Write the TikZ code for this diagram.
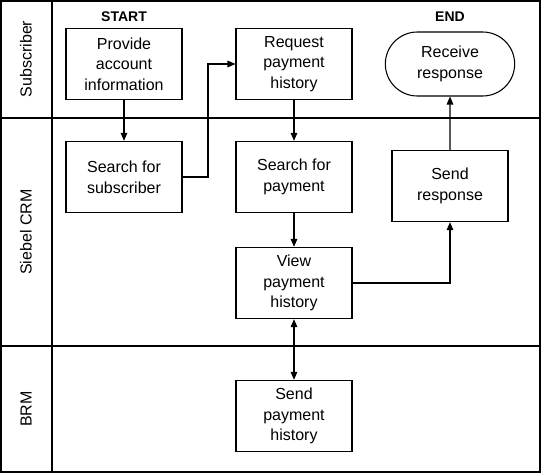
\documentclass[tikz,border=0pt]{standalone}
\usepackage{fontspec}
\setmainfont{Liberation Sans}
\usetikzlibrary{arrows.meta,shapes.misc}
\begin{document}
\begin{tikzpicture}[x=0.75pt,y=-0.75pt,
  box/.style={draw,line width=0.8pt,minimum width=87pt,minimum height=53.5pt,align=center,font=\fontsize{12}{15.5}\selectfont,inner sep=1pt},
  term/.style={box,rounded rectangle,minimum width=99pt,minimum height=48pt},
  arr/.style={-{Triangle[length=6pt,width=5pt]},line width=0.8pt},
  lane/.style={rotate=90,font=\fontsize{12}{14}\selectfont},
  hdr/.style={font=\bfseries\fontsize{10.5}{12}\selectfont}]
\useasboundingbox (0,0) rectangle (542,474);
\draw[line width=0.8pt] (1,1) rectangle (540,472);
\draw[line width=0.8pt] (52,1) -- (52,472);
\draw[line width=0.8pt] (1,118) -- (540,118);
\draw[line width=0.8pt] (1,346) -- (540,346);
\node[lane] (l1) at (26,59) {Subscriber};
\node[lane] (l2) at (26,232) {Siebel CRM};
\node[lane] (l3) at (26,409) {BRM};
\node[hdr] (st) at (124,17) {START};
\node[hdr] (en) at (450,17) {END};
\node[box] (pa) at (124,64) {Provide\\account\\information};
\node[box] (rq) at (294,64) {Request\\payment\\history};
\node[term] (rr) at (450,64) {Receive\\response};
\node[box] (ss) at (124,177) {Search for\\subscriber};
\node[box] (sp) at (294,177) {Search for\\payment};
\node[box] (sr) at (450,186) {Send\\response};
\node[box] (vp) at (294,283) {View\\payment\\history};
\node[box] (sh) at (294,416) {Send\\payment\\history};
\draw[arr] (pa) -- (ss);
\draw[arr] (ss.east) -- (208,177) -- (208,64) -- (rq.west);
\draw[arr] (rq) -- (sp);
\draw[arr] (sp) -- (vp);
\draw[arr] (vp.east) -| (sr.south);
\draw[arr] (sr) -- (rr);
\draw[arr,{Triangle[length=6pt,width=5pt]}-{Triangle[length=6pt,width=5pt]}] (vp) -- (sh);
\end{tikzpicture}
\end{document}
